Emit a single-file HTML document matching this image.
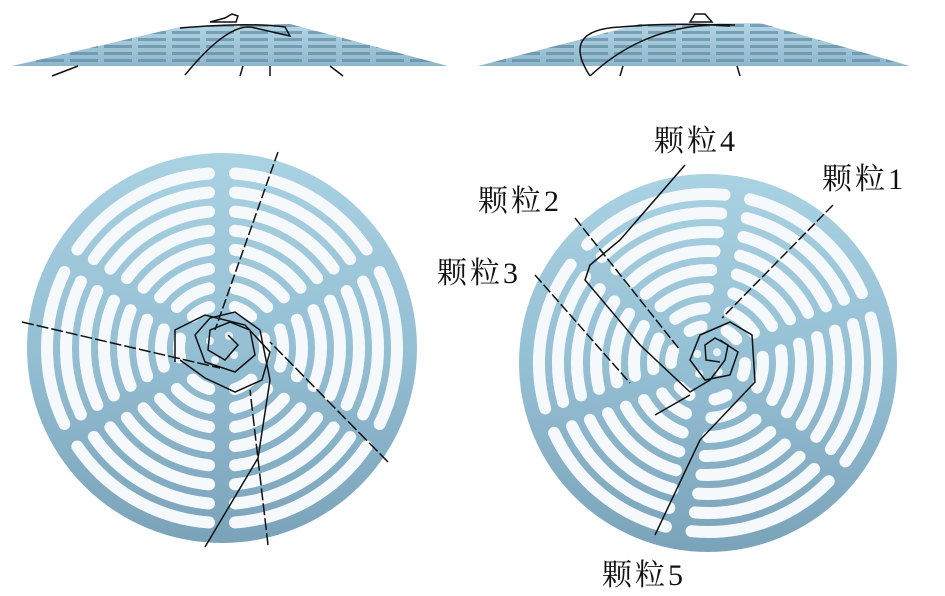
<!DOCTYPE html>
<html><head><meta charset="utf-8">
<style>
html,body{margin:0;padding:0;background:#fff;}
svg{display:block;}
text{font-family:"Liberation Serif","Noto Serif CJK SC",serif;font-size:30px;letter-spacing:3px;fill:#111;}
</style></head>
<body>
<svg id="s" width="945" height="596" viewBox="0 0 945 596" xmlns="http://www.w3.org/2000/svg">
<defs>
<linearGradient id="dg" x1="0" y1="0" x2="0" y2="1">
<stop offset="0" stop-color="#a9d2e3"/><stop offset="0.5" stop-color="#95bfd3"/><stop offset="1" stop-color="#7aa3ba"/>
</linearGradient>
<linearGradient id="tg" x1="0" y1="0" x2="0" y2="1">
<stop offset="0" stop-color="#b4d6e5"/><stop offset="1" stop-color="#8fb7cc"/>
</linearGradient>
<pattern id="st" width="34" height="7" patternUnits="userSpaceOnUse">
<rect x="2" y="3" width="28" height="3" fill="#5f8aa3" opacity="0.7"/>
</pattern>
</defs>
<polygon points="12,66 180,27 290,24 448,66" fill="url(#tg)"/>
<polygon points="12,66 180,27 290,24 448,66" fill="url(#st)"/>
<polygon points="478,66 640,24 760,23 910,66" fill="url(#tg)"/>
<polygon points="478,66 640,24 760,23 910,66" fill="url(#st)"/>
<g fill="none" stroke="#111" stroke-width="1.5">
<path d="M185,75 Q230,20 255,28 L290,36 L285,27 Q250,22 180,28"/>
<path d="M210,22 L225,18 L232,14 L238,16 L236,22 Z"/>
<path d="M52,76 L78,66"/><path d="M240,76 L243,66"/><path d="M270,76 L270,66"/><path d="M343,76 L330,66"/>
<path d="M590,76 Q560,30 620,27 Q680,22 730,26"/>
<path d="M590,76 Q650,20 735,25"/>
<path d="M690,22 L695,14 L705,14 L712,22 Z"/>
<path d="M620,76 L623,66"/><path d="M740,76 L737,66"/>
</g>
<g id="discs"></g>
<g fill="none" stroke="#111" stroke-width="1.5">
<path d="M278,152 L215,330" stroke-dasharray="10,3"/>
<path d="M22,322 L220,368" stroke-dasharray="12,3"/>
<path d="M388,462 L270,342" stroke-dasharray="12,3"/>
<path d="M268,545 L250,390" stroke-dasharray="12,3"/>
<path d="M205,547 L258,458 L270,380 L260,330 L235,312 L210,318 L195,335 L205,362 L235,372 L255,355 L250,330 L230,322 L210,330 L208,350 L225,360 L238,345 L228,335"/>
<path d="M175,362 L175,330 L205,315 L245,325 L270,352 L262,380 L235,392 L205,378 L180,360"/>
<path d="M833,205 L722,318" stroke-dasharray="10,3"/>
<path d="M575,218 L680,350" stroke-dasharray="10,3"/>
<path d="M535,275 L630,383" stroke-dasharray="10,3"/>
<path d="M685,165 L620,240 L590,265 L585,280 L640,345 L690,392 L710,380 L725,360 L728,345 L715,338 L705,345 L706,360 L720,362"/>
<path d="M655,535 L700,440 L755,382 L752,335 L730,322 L700,335 L690,360 L705,380 L730,375 L738,352 L720,340"/>
<path d="M655,415 L690,395"/>
</g>
<text x="654" y="151">颗粒4</text>
<text x="822" y="189">颗粒1</text>
<text x="478" y="211">颗粒2</text>
<text x="437" y="283">颗粒3</text>
<text x="602" y="585">颗粒5</text>
</svg>
<script>
(function(){
var NS="http://www.w3.org/2000/svg",g=document.getElementById("discs");
function el(n,a){var e=document.createElementNS(NS,n);for(var k in a)e.setAttribute(k,a[k]);g.appendChild(e);return e;}
function disc(cx,cy,R,rot){
 el("circle",{cx:cx,cy:cy,r:R,fill:"url(#dg)"});
 var radii=[R-20,R-39,R-58,R-77,R-96,R-115,R-134,R-152];
 radii.forEach(function(r,i){
  for(var s=0;s<6;s++){
   var t=13/r;
   var a0=(-90+rot+s*60)*Math.PI/180+t,a1=(-90+rot+(s+1)*60)*Math.PI/180-t;
   var x0=cx+r*Math.cos(a0),y0=cy+r*Math.sin(a0),x1=cx+r*Math.cos(a1),y1=cy+r*Math.sin(a1);
   el("path",{d:"M"+x0+","+y0+" A"+r+","+r+" 0 0 1 "+x1+","+y1,fill:"none",stroke:"#f5f9fb","stroke-width":12,"stroke-linecap":"round"});
  }
 });
 for(var k=0;k<4;k++){var a=(k*90+30+rot)*Math.PI/180;el("circle",{cx:cx+14*Math.cos(a),cy:cy+14*Math.sin(a),r:4,fill:"#e8f2f6"});}
}
disc(222,348,195,0);
disc(708,363,189,10);
})();
</script>
</body></html>
